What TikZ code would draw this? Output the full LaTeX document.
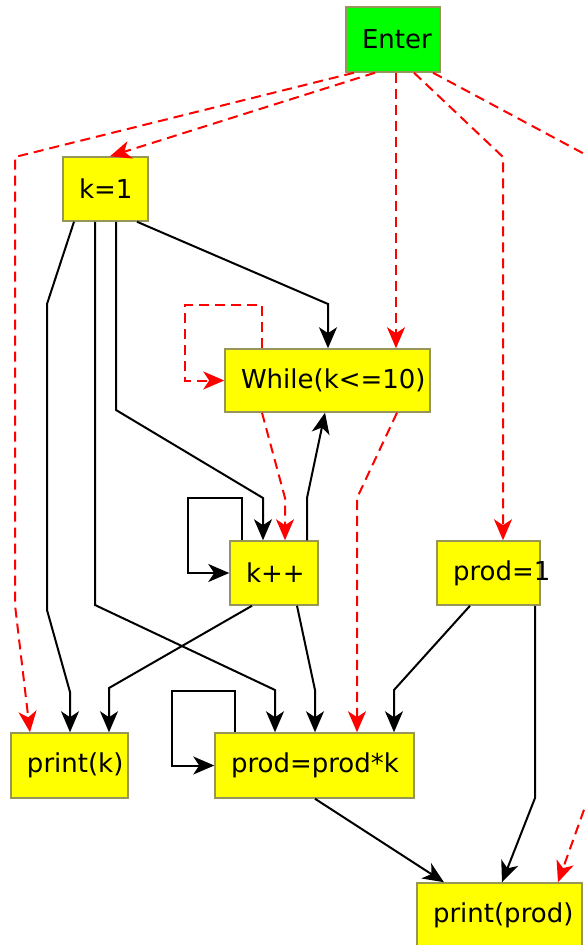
\documentclass[tikz,border=0pt]{standalone}
\usepackage{fontspec}
\setmainfont{DejaVu Sans}
\usetikzlibrary{arrows.meta}
\definecolor{boxborder}{RGB}{150,150,90}
\definecolor{ylw}{RGB}{255,255,0}
\definecolor{grn}{RGB}{0,255,0}
\tikzset{
  box/.style={draw=boxborder, fill=ylw, line width=1.5pt, inner xsep=16pt, inner ysep=0pt,
    minimum height=64pt, align=left, anchor=center, font=\fontsize{26}{31}\selectfont},
  ctl/.style={draw=black, line width=2pt, -{Stealth[length=21pt,width=18pt,inset=6pt]}},
  dep/.style={draw=red, line width=2pt, dash pattern=on 10pt off 6pt,
    -{Stealth[length=21pt,width=18pt,inset=6pt]}},
}
\begin{document}
\begin{tikzpicture}[x=1pt,y=-1pt]
\useasboundingbox (0,0) rectangle (585,945);
% nodes
\node[box, fill=grn, text width=62pt, minimum height=65pt] (enter) at (393,39.5) {Enter};
\node[box, text width=53pt] (k1) at (105.5,189) {k=1};
\node[box, text width=173pt, minimum height=63pt] (while) at (327.5,380.5) {While(k<=10)};
\node[box, text width=56pt] (kpp) at (274,573) {k++};
\node[box, text width=71pt] (prod1) at (488.5,573) {prod=1};
\node[box, text width=85pt, minimum height=65pt] (printk) at (69.5,765.5) {print(k)};
\node[box, text width=167pt, minimum height=65pt] (prodk) at (314.5,765.5) {prod=prod*k};
\node[box, text width=133pt] (printprod) at (499.5,915) {print(prod)};
% dependence edges from Enter
\draw[dep] ([xshift=-39pt]enter.south) -- (15,157) -- (15,605) -- ([xshift=-39.5pt]printk.north);
\draw[dep] ([xshift=-18pt]enter.south) -- ([xshift=4.5pt]k1.north);
\draw[dep] ([xshift=3pt]enter.south) -- ([xshift=68.5pt]while.north);
\draw[dep] ([xshift=21pt]enter.south) -- (503,157) -- ([xshift=14.5pt]prod1.north);
\draw[dep] ([xshift=40pt]enter.south) -- (590,157) -- (590,793) -- ([xshift=58.5pt]printprod.north);
% from k=1
\draw[ctl] ([xshift=-31.5pt]k1.south) -- (47,304) -- (47,610) -- (70,692) -- ([xshift=0.5pt]printk.north);
\draw[ctl] ([xshift=-10.5pt]k1.south) -- (95,605) -- (275,690) -- ([xshift=-39.5pt]prodk.north);
\draw[ctl] ([xshift=10.5pt]k1.south) -- (116,410) -- (263,498) -- ([xshift=-11pt]kpp.north);
\draw[ctl] ([xshift=31.5pt]k1.south) -- (328,304) -- ([xshift=0.5pt]while.north);
% from While
\draw[dep] ([xshift=-65.5pt]while.north) -- (262,305) -- (185,305) -- (185,380.5) -- (while.west);
\draw[dep] ([xshift=-65.5pt]while.south) -- (285,498) -- ([xshift=11pt]kpp.north);
\draw[dep] ([xshift=69.5pt]while.south) -- (357,498) -- ([xshift=42.5pt]prodk.north);
% from k++
\draw[ctl] ([xshift=33pt]kpp.north) -- (307,498) -- ([xshift=-2.5pt]while.south);
\draw[ctl] ([xshift=-32pt]kpp.north) -- (242,498) -- (188,498) -- (188,573) -- (kpp.west);
\draw[ctl] ([xshift=-22pt]kpp.south) -- (109,688) -- ([xshift=39.5pt]printk.north);
\draw[ctl] ([xshift=23pt]kpp.south) -- (315,690) -- ([xshift=0.5pt]prodk.north);
% from prod=1
\draw[ctl] ([xshift=-18.5pt]prod1.south) -- (394,690) -- ([xshift=79.5pt]prodk.north);
\draw[ctl] ([xshift=46.5pt]prod1.south) -- (535,798) -- ([xshift=2.5pt]printprod.north);
% from prod=prod*k
\draw[ctl] ([xshift=-79.5pt]prodk.north) -- (235,691) -- (172,691) -- (172,765.5) -- (prodk.west);
\draw[ctl] ([xshift=0.5pt]prodk.south) -- ([xshift=-55.5pt]printprod.north);
\end{tikzpicture}
\end{document}
